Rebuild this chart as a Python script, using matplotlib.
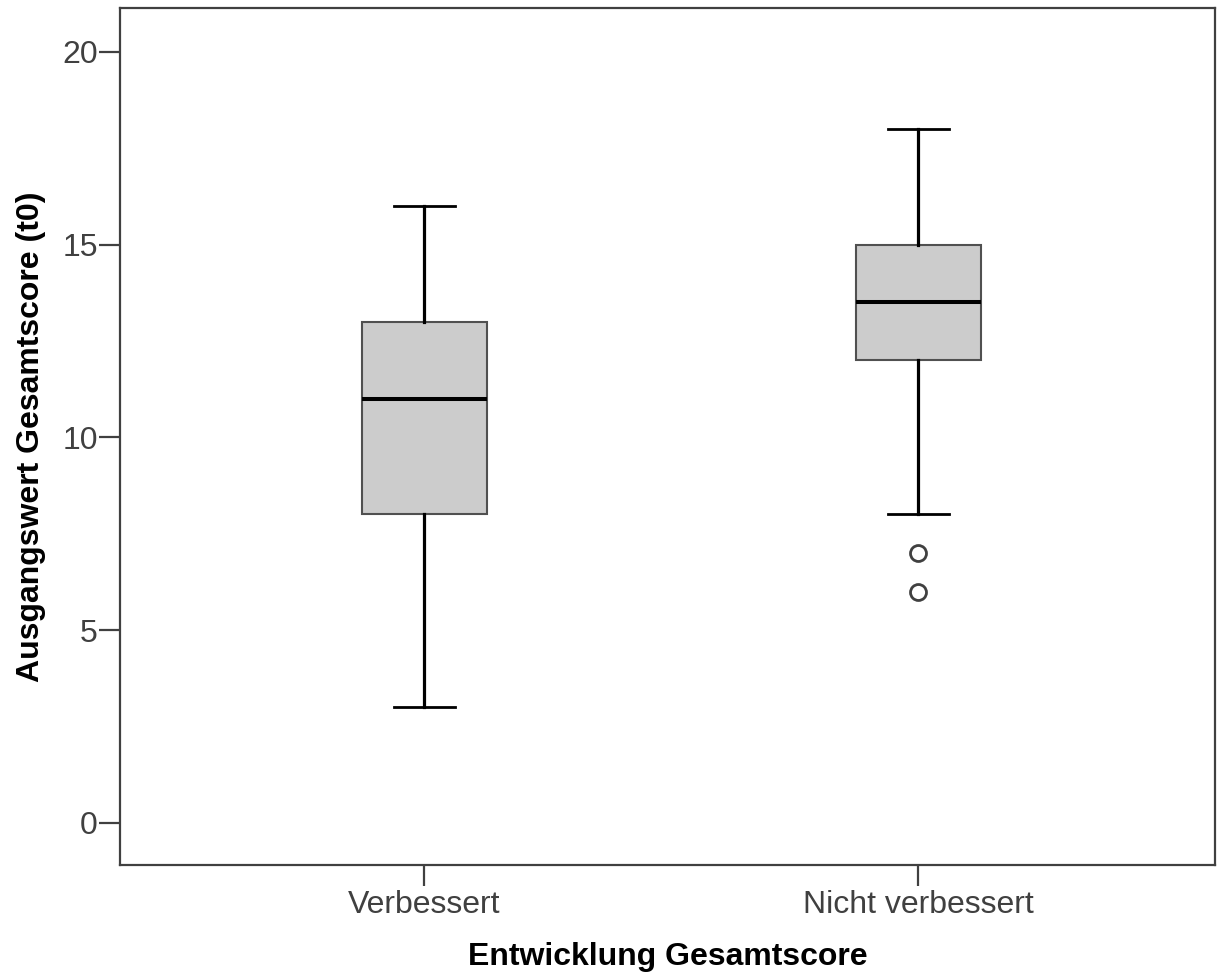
import matplotlib
matplotlib.use("Agg")
import matplotlib.pyplot as plt

plt.rcParams['font.family'] = ['Liberation Sans', 'DejaVu Sans']

groups = ["Verbessert", "Nicht verbessert"]
q1 = [8, 12]
medians = [11, 13.5]
q3 = [13, 15]
whisk_lo = [3, 8]
whisk_hi = [16, 18]
outliers = [[], [7, 6]]

stats = []
for i in range(len(groups)):
    stats.append({
        "label": groups[i],
        "q1": q1[i],
        "med": medians[i],
        "q3": q3[i],
        "whislo": whisk_lo[i],
        "whishi": whisk_hi[i],
        "fliers": outliers[i],
    })

fig = plt.figure(figsize=(12.2, 9.73), dpi=100)
ax = fig.add_axes([0.0984, 0.111, 0.8975, 0.881])

ax.bxp(stats, positions=[1, 2], widths=0.253, capwidths=0.123, patch_artist=True,
       boxprops=dict(facecolor="#cccccc", edgecolor="#505050", linewidth=1.5),
       medianprops=dict(color="black", linewidth=2.9),
       whiskerprops=dict(color="black", linewidth=2.3),
       capprops=dict(color="black", linewidth=2.0),
       flierprops=dict(marker="o", markersize=11.5, markerfacecolor="white",
                       markeredgecolor="#404040", markeredgewidth=2))

ax.set_xlim(0.384, 2.601)
ax.set_ylim(-1.09, 21.14)
ax.set_yticks([0, 5, 10, 15, 20])
ax.set_xticks([1, 2])
ax.set_xticklabels(groups)

for s in ax.spines.values():
    s.set_color("#404040")
    s.set_linewidth(1.6)

ax.tick_params(axis="both", direction="out", length=15, width=1.6, color="#404040",
               labelsize=23, labelcolor="#404040")
ax.tick_params(axis="y", pad=1)
ax.tick_params(axis="x", pad=3)

ax.set_xlabel("Entwicklung Gesamtscore", fontsize=23, fontweight="bold", labelpad=16)
ax.set_ylabel("Ausgangswert Gesamtscore (t0)", fontsize=23, fontweight="bold", labelpad=12)

plt.savefig("out.png", dpi=100)
plt.close()
